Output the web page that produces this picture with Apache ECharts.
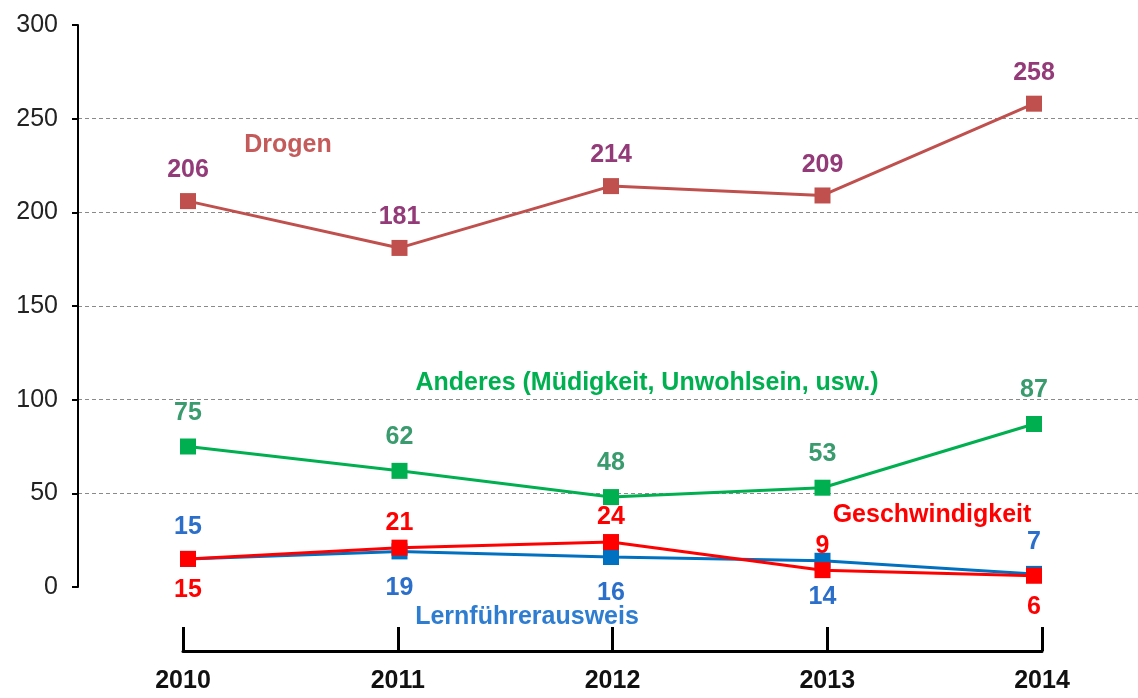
<!DOCTYPE html>
<html>
<head>
<meta charset="utf-8">
<script src="https://cdn.jsdelivr.net/npm/echarts@6/dist/echarts.min.js"></script>
<style>
html,body{margin:0;padding:0;background:#fff;}
#c{width:1138px;height:698px;}
</style>
</head>
<body>
<div id="c"></div>
<script>
const years = ['2010', '2011', '2012', '2013', '2014'];
const drogen = [206, 181, 214, 209, 258];
const anderes = [75, 62, 48, 53, 87];
const geschwindigkeit = [15, 21, 24, 9, 6];
const lernfuehrer = [15, 19, 16, 14, 7];
const geschwLabelPos = ['bottom', 'top', 'top', 'top', 'bottom'];
const lernLabelPos = ['top', 'bottom', 'bottom', 'bottom', 'top'];
const seriesNames = ['Drogen', 'Anderes (Müdigkeit, Unwohlsein, usw.)', 'Geschwindigkeit', 'Lernführerausweis'];
const yMin = 0, yMax = 300, yStep = 50;

const FONT = "'Liberation Sans', Arial, sans-serif";
const chart = echarts.init(document.getElementById('c'), null, {renderer: 'canvas'});

function items(vals, positions, distTop, distBottom) {
  return vals.map((v, i) => {
    const pos = positions ? positions[i] : 'top';
    return {value: v, label: {position: pos, distance: pos === 'top' ? distTop : distBottom}};
  });
}

function lineSeries(name, vals, color, labelColor, positions, dTop, dBot, bg) {
  return {
    name: name, type: 'line', xAxisIndex: 1, yAxisIndex: 1,
    data: items(vals, positions, dTop, dBot),
    symbol: 'rect', symbolSize: 16,
    lineStyle: {color: color, width: 3},
    itemStyle: {color: color},
    label: {show: true, color: labelColor, fontFamily: FONT, fontSize: 25, fontWeight: 'bold',
            backgroundColor: bg || 'transparent'},
    animation: false
  };
}

const option = {
  backgroundColor: '#fff',
  animation: false,
  grid: [
    {left: 78, right: 0, top: 25, bottom: 111},
    {left: 188, right: 104, top: 25, bottom: 111},
    {left: 183, right: 96, top: 25, bottom: 111}
  ],
  xAxis: [
    {gridIndex: 0, type: 'value', min: 0, max: 1, show: false},
    {gridIndex: 1, type: 'category', data: years, boundaryGap: false, show: false},
    {gridIndex: 2, type: 'category', data: years, boundaryGap: false, position: 'bottom', offset: 64,
     axisLine: {show: true, onZero: false, lineStyle: {color: '#000', width: 3}},
     axisTick: {show: true, inside: true, length: 24, lineStyle: {color: '#000', width: 3}},
     axisLabel: {show: true, color: '#111', fontFamily: FONT, fontSize: 25, fontWeight: 'bold', margin: 18},
     splitLine: {show: false}}
  ],
  yAxis: [
    {gridIndex: 0, type: 'value', min: yMin, max: yMax, interval: yStep, position: 'left',
     axisLine: {show: true, lineStyle: {color: '#000', width: 2}},
     axisTick: {show: true, length: 6, lineStyle: {color: '#000', width: 2}},
     axisLabel: {color: '#222', fontFamily: FONT, fontSize: 25, margin: 20},
     splitLine: {show: true, showMinLine: false, showMaxLine: false,
                 lineStyle: {color: '#8a8a8a', width: 1, type: [4, 3]}}},
    {gridIndex: 1, type: 'value', min: yMin, max: yMax, interval: yStep, show: false, splitLine: {show: false}},
    {gridIndex: 2, type: 'value', min: yMin, max: yMax, interval: yStep, show: false, splitLine: {show: false}}
  ],
  series: [
    lineSeries(seriesNames[0], drogen, '#C0504D', '#933A78', null, 10, 10, '#fff'),
    lineSeries(seriesNames[1], anderes, '#00B050', '#3A9B6E', null, 13, 13),
    lineSeries(seriesNames[3], lernfuehrer, '#0070C0', '#2B6FCB', lernLabelPos, 11, 16),
    lineSeries(seriesNames[2], geschwindigkeit, '#FF0000', '#FF0000', geschwLabelPos, 4, 11)
  ],
  graphic: [
    {type: 'text', x: 288, y: 145, style: {text: seriesNames[0], fill: '#C55A5A', font: "bold 25px " + FONT, align: 'center', verticalAlign: 'middle'}},
    {type: 'text', x: 647, y: 383, style: {text: seriesNames[1], fill: '#00B050', font: "bold 25px " + FONT, align: 'center', verticalAlign: 'middle'}},
    {type: 'text', x: 932, y: 515, style: {text: seriesNames[2], fill: '#FF0000', font: "bold 25px " + FONT, align: 'center', verticalAlign: 'middle'}},
    {type: 'text', x: 527, y: 617, style: {text: seriesNames[3], fill: '#2E7DD1', font: "bold 25px " + FONT, align: 'center', verticalAlign: 'middle'}}
  ]
};
chart.setOption(option);
</script>
</body>
</html>
